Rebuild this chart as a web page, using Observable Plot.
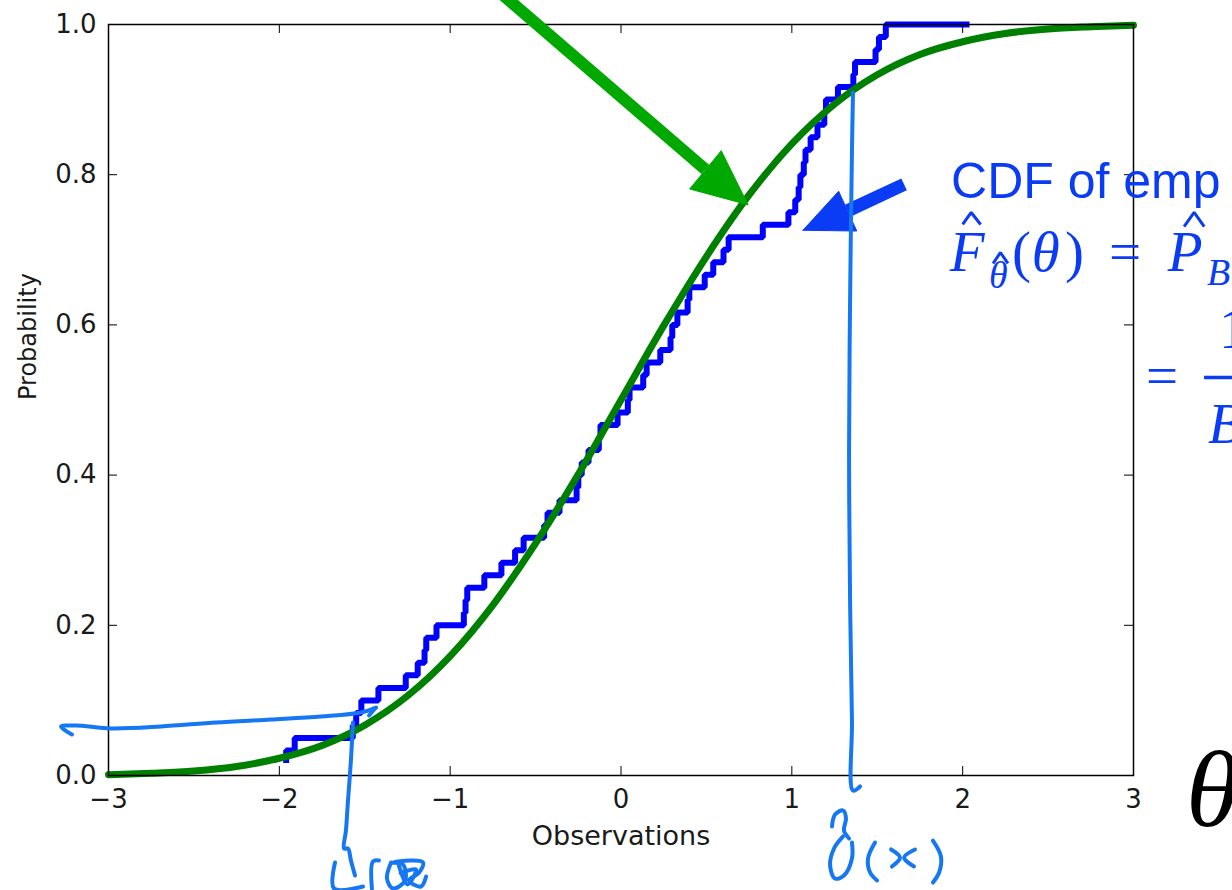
<!DOCTYPE html>
<html>
<head>
<meta charset="utf-8">
<script src="https://cdn.jsdelivr.net/npm/d3@7"></script>
<script src="https://cdn.jsdelivr.net/npm/@observablehq/plot@0.6"></script>
<style>
  html, body { margin: 0; padding: 0; background: #fff; }
  svg { display: block; }
</style>
</head>
<body>
<div id="chart"></div>
<script>
// ---------- axes ----------
const xTicks = [-3, -2, -1, 0, 1, 2, 3];
const yTicks = [0, 0.2, 0.4, 0.6, 0.8, 1.0];
const xLabel = "Observations";
const yLabel = "Probability";

// ---------- empirical CDF (sorted observations, step heights 1/60) ----------
const observations = [
  -1.96, -1.91, -1.57, -1.55, -1.52, -1.42, -1.26, -1.19, -1.15, -1.14,
  -1.08, -0.92, -0.91, -0.90, -0.80, -0.70, -0.62, -0.57, -0.45, -0.43,
  -0.36, -0.26, -0.25, -0.23, -0.19, -0.13, -0.12, -0.02, 0.04, 0.05,
  0.13, 0.15, 0.23, 0.29, 0.30, 0.33, 0.39, 0.40, 0.49, 0.54,
  0.60, 0.63, 0.83, 0.98, 1.02, 1.04, 1.05, 1.07, 1.08, 1.11,
  1.15, 1.19, 1.20, 1.27, 1.36, 1.37, 1.49, 1.51, 1.55, 2.04
];

// ---------- theoretical CDF ----------
const cdfX = [-3, -2.75, -2.5, -2.25, -2, -1.75, -1.5, -1.25, -1, -0.75, -0.5, -0.25, 0,
              0.25, 0.5, 0.75, 1, 1.25, 1.5, 1.75, 2, 2.25, 2.5, 2.75, 3];
const cdfY = [0.001, 0.003, 0.006, 0.012, 0.023, 0.040, 0.067, 0.106, 0.159, 0.227, 0.309, 0.401, 0.5,
              0.599, 0.691, 0.773, 0.841, 0.894, 0.933, 0.960, 0.977, 0.988, 0.994, 0.997, 0.999];

// ---------- annotation arrows (data units) ----------
const greenShaft = [[-0.72, 1.045], [0.494, 0.807]];
const greenHead = [[0.743, 0.760], [0.402, 0.781], [0.587, 0.832], [0.743, 0.760]];
const blueShaft = [[1.657, 0.787], [1.327, 0.752]];
const blueHead = [[1.065, 0.726], [1.274, 0.778], [1.380, 0.725], [1.065, 0.726]];

// ---------- handwritten ink strokes (data units) ----------
const inkStrokes = [
  [[-3.214, 0.0546], [-3.278, 0.0652], [-3.190, 0.0666], [-2.985, 0.0626], [-2.693, 0.0652],
   [-2.371, 0.0706], [-2.049, 0.0746], [-1.756, 0.0786], [-1.522, 0.0839], [-1.434, 0.0905]],
  [[-1.475, 0.0799], [-1.440, 0.0893]],
  [[-1.569, 0.0706], [-1.581, 0.0200], [-1.598, -0.0333], [-1.610, -0.0732], [-1.621, -0.0972],
   [-1.598, -0.0972], [-1.581, -0.1132], [-1.557, -0.1332]],
  [[-1.674, -0.1158], [-1.680, -0.1505], [-1.510, -0.1478]],
  [[-1.417, -0.1132], [-1.452, -0.1145], [-1.458, -0.1505]],
  [[-1.346, -0.1158], [-1.370, -0.1372], [-1.335, -0.1505], [-1.264, -0.1398], [-1.276, -0.1185],
   [-1.335, -0.1158], [-1.229, -0.1132], [-1.159, -0.1158], [-1.182, -0.1292], [-1.241, -0.1398],
   [-1.171, -0.1478], [-1.141, -0.1345]],
  [[-1.300, -0.1200], [-1.250, -0.1450], [-1.200, -0.1250], [-1.290, -0.1300]],
  [[1.358, 0.9095], [1.352, 0.8322], [1.341, 0.6325], [1.335, 0.4328], [1.341, 0.2330],
   [1.352, 0.0732], [1.358, -0.0200], [1.399, -0.0146]],
  [[1.235, -0.0679], [1.253, -0.0519], [1.300, -0.0466], [1.317, -0.0573], [1.305, -0.0732], [1.335, -0.0839]],
  [[1.300, -0.0812], [1.247, -0.0972], [1.224, -0.1198], [1.253, -0.1372], [1.305, -0.1332],
   [1.352, -0.1105], [1.352, -0.0892]],
  [[1.487, -0.0892], [1.446, -0.1105], [1.458, -0.1292], [1.499, -0.1398]],
  [[1.581, -0.0985], [1.633, -0.1092], [1.586, -0.1212]],
  [[1.721, -0.0985], [1.657, -0.1092], [1.715, -0.1212]],
  [[1.826, -0.0866], [1.873, -0.1079], [1.862, -0.1292], [1.826, -0.1425]]
];

// ---------- formula / labels (data units) ----------
const cdfText = {text: "CDF of emp", x: 1.932, y: 0.7696};
const formulaItalic = [
  {text: "F", x: 1.925, y: 0.6724},
  {text: "θ", x: 2.405, y: 0.6724},
  {text: "P", x: 3.200, y: 0.6724},
  {text: "B", x: 3.436, y: 0.4421}
];
const formulaUpright = [
  {text: "(", x: 2.289, y: 0.6724},
  {text: ")", x: 2.599, y: 0.6724},
  {text: "=", x: 2.857, y: 0.6724},
  {text: "=", x: 3.073, y: 0.506},
  {text: "1", x: 3.501, y: 0.5686}
];
const formulaSub = [
  {text: "θ", x: 2.154, y: 0.6498},
  {text: "B", x: 3.430, y: 0.6525}
];
const formulaHats = [
  [[2.000, 0.7337], [2.050, 0.7497], [2.105, 0.7337]],
  [[2.178, 0.6818], [2.221, 0.6964], [2.265, 0.6818]],
  [[3.296, 0.7310], [3.355, 0.7497], [3.414, 0.7310]]
];
const fractionBar = [[3.413, 0.530], [3.65, 0.530]];
const thetaBig = {text: "θ", x: 3.307, y: -0.0679};

// ---------- build ----------
const W = 1232, H = 890, ML = 108, MR = 99, MT = 24, MB = 115;
const innerW = W - ML - MR, innerH = H - MT - MB;
const ecdf = observations.map((x, i) => ({x, y: (i + 1) / observations.length}));
const cdf = cdfX.map((x, i) => ({x, y: cdfY[i]}));
const toPts = (arr, id) => arr.map(([x, y]) => ({x, y, id}));
const ink = inkStrokes.flatMap((s, i) => toPts(s, i));
const hats = formulaHats.flatMap((s, i) => toPts(s, i));

const blueText = "#0b3cf5";
const inkColor = "#1677f3";
const serif = "'Liberation Serif', 'Times New Roman', serif";
const xFmt = d => (d < 0 ? "\u2212" : "") + Math.abs(d);

const chart = Plot.plot({
  width: W, height: H,
  marginLeft: ML, marginRight: MR, marginTop: MT, marginBottom: MB,
  x: {domain: [-3, 3]},
  y: {domain: [0, 1]},
  style: {background: "white", overflow: "hidden"},
  marks: [
    Plot.line(ecdf, {x: "x", y: "y", curve: "step-before", stroke: "#0000ff", strokeWidth: 6,
      strokeLinejoin: "miter", strokeLinecap: "butt"}),
    Plot.line(cdf, {x: "x", y: "y", curve: "monotone-x", stroke: "#008000", strokeWidth: 7}),
    // frame & inward ticks
    Plot.frame({stroke: "#000", strokeWidth: 1.5}),
    Plot.tickY(yTicks, {y: d => d, insetRight: innerW - 9, stroke: "#000", strokeWidth: 1}),
    Plot.tickY(yTicks, {y: d => d, insetLeft: innerW - 9, stroke: "#000", strokeWidth: 1}),
    Plot.tickX(xTicks, {x: d => d, insetTop: innerH - 9, stroke: "#000", strokeWidth: 1}),
    Plot.tickX(xTicks, {x: d => d, insetBottom: innerH - 9, stroke: "#000", strokeWidth: 1}),
    Plot.axisX(xTicks, {tickSize: 0, tickPadding: 14, fontSize: 26, fontFamily: "DejaVu Sans",
      fill: "#1a1a1a", label: null, tickFormat: xFmt}),
    Plot.axisY(yTicks, {tickSize: 0, tickPadding: 12, fontSize: 26, fontFamily: "DejaVu Sans",
      fill: "#1a1a1a", label: null, tickFormat: d3.format(".1f")}),
    Plot.text([xLabel], {text: d => d, frameAnchor: "bottom", dy: 69, fontSize: 27,
      fontFamily: "DejaVu Sans", fill: "#1a1a1a"}),
    Plot.text([yLabel], {text: d => d, frameAnchor: "left", dx: -80, rotate: -90, fontSize: 24,
      fontFamily: "DejaVu Sans", fill: "#1a1a1a"}),
    // blue annotation text
    Plot.text([cdfText], {x: "x", y: "y", text: "text", textAnchor: "start", lineAnchor: "bottom",
      fontSize: 50, fontFamily: "'Liberation Sans', Arial, sans-serif", fill: blueText}),
    Plot.text(formulaItalic, {x: "x", y: "y", text: "text", textAnchor: "start", lineAnchor: "bottom",
      fontSize: 57, fontFamily: serif, fontStyle: "italic", fill: blueText}),
    Plot.text(formulaUpright, {x: "x", y: "y", text: "text", textAnchor: "start", lineAnchor: "bottom",
      fontSize: 57, fontFamily: serif, fill: blueText}),
    Plot.text(formulaSub, {x: "x", y: "y", text: "text", textAnchor: "start", lineAnchor: "bottom",
      fontSize: 38, fontFamily: serif, fontStyle: "italic", fill: blueText}),
    Plot.line(hats, {x: "x", y: "y", z: "id", stroke: blueText, strokeWidth: 3,
      strokeLinejoin: "miter", strokeLinecap: "butt"}),
    Plot.line(toPts(fractionBar, 0), {x: "x", y: "y", stroke: blueText, strokeWidth: 3.5, strokeLinecap: "butt"}),
    Plot.text([thetaBig], {x: "x", y: "y", text: "text", textAnchor: "start", lineAnchor: "bottom",
      fontSize: 108, fontFamily: serif, fontStyle: "italic", fill: "#000"}),
    // arrows
    Plot.line(toPts(greenShaft, 0), {x: "x", y: "y", stroke: "#00a800", strokeWidth: 12, strokeLinecap: "butt"}),
    Plot.line(toPts(greenHead, 0), {x: "x", y: "y", stroke: "#00a800", fill: "#00a800", strokeWidth: 1,
      strokeLinejoin: "miter"}),
    Plot.line(toPts(blueShaft, 0), {x: "x", y: "y", stroke: blueText, strokeWidth: 13, strokeLinecap: "butt"}),
    Plot.line(toPts(blueHead, 0), {x: "x", y: "y", stroke: blueText, fill: blueText, strokeWidth: 1,
      strokeLinejoin: "miter"}),
    // handwritten ink
    Plot.line(ink, {x: "x", y: "y", z: "id", stroke: inkColor, strokeWidth: 4, curve: "catmull-rom"})
  ]
});
document.getElementById("chart").appendChild(chart);
</script>
</body>
</html>
